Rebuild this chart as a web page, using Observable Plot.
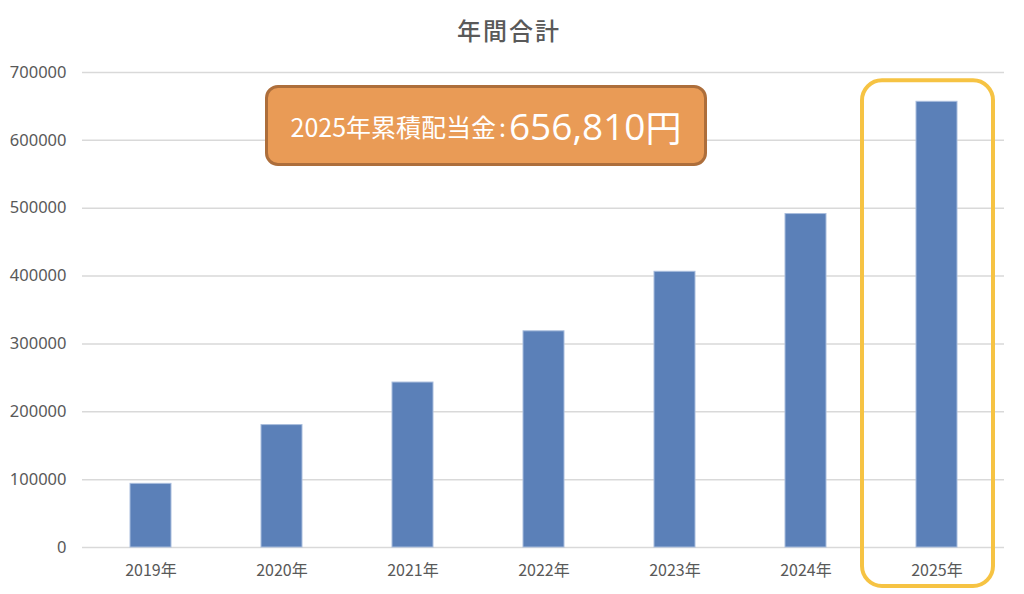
<!DOCTYPE html>
<html>
<head>
<meta charset="utf-8">
<script src="https://cdn.jsdelivr.net/npm/d3@7"></script>
<script src="https://cdn.jsdelivr.net/npm/@observablehq/plot@0.6"></script>
<style>
  html, body { margin: 0; padding: 0; background: #fff; }
  #wrap { position: relative; width: 1024px; height: 594px; overflow: hidden; }
  #title { position: absolute; left: 0; top: 12px; width: 1018px; text-align: center;
           font-family: "Noto Sans CJK JP", sans-serif; font-size: 24px; font-weight: 500; letter-spacing: 2px; color: #595959; }
  #note { position: absolute; left: 265px; top: 85px; width: 436px; height: 75px;
          border: 3px solid #AD6E3B; border-radius: 13px; background: #E99B56;
          display: flex; align-items: center; justify-content: center;
          font-family: "Noto Sans CJK JP", sans-serif; font-weight: normal; color: #fff; white-space: nowrap; }
  #note .a { font-size: 25px; }
  #note .sep { font-size: 25px; margin: 0 3px; }
  #note .b { font-size: 37px; font-family: "Open Sans", "Noto Sans CJK JP", sans-serif; }
  #note .c { font-size: 36px; }
</style>
</head>
<body>
<div id="wrap">
  <div id="chart"></div>
  <div id="title"></div>
  <div id="note"></div>
</div>
<script>
const titleText = "年間合計";
const years = ["2019年", "2020年", "2021年", "2022年", "2023年", "2024年", "2025年"];
const totals = [93800, 180400, 243100, 318600, 406300, 491400, 656810];
const yTicks = [0, 100000, 200000, 300000, 400000, 500000, 600000, 700000];
const highlightYear = "2025年";
const noteLabel = "2025年累積配当金";

const data = years.map((y, i) => ({year: y, total: totals[i]}));
const highlight = data.filter(d => d.year === highlightYear);

document.getElementById("title").textContent = titleText;
const hv = highlight[0].total;
document.getElementById("note").innerHTML =
  `<span class="a">${noteLabel}</span><span class="sep">:</span><span class="b">${d3.format(",")(hv)}</span><span class="c">円</span>`;

const chart = Plot.plot({
  width: 1024,
  height: 594,
  marginLeft: 82,
  marginRight: 20,
  marginTop: 72,
  marginBottom: 47,
  style: {fontFamily: "'Noto Sans', 'Noto Sans CJK JP', sans-serif", fontSize: "16px", color: "#595959", background: "transparent", overflow: "visible"},
  x: {domain: years, paddingInner: 0.69, paddingOuter: 0.345, label: null},
  y: {domain: [0, 700000], label: null},
  marks: [
    Plot.ruleY(yTicks, {stroke: "#d9d9d9", strokeWidth: 1.5}),
    Plot.barY(data, {x: "year", y: "total", fill: "#5B80B8", stroke: "#a9bddd", strokeWidth: 1}),
    Plot.barY(highlight, {x: "year", y1: 0, y2: "total", fill: "none", stroke: "#F6C343", strokeWidth: 4,
      rx: 20, insetLeft: -54, insetRight: -36, insetTop: -21, insetBottom: -39}),
    Plot.axisY({ticks: yTicks, tickSize: 0, tickPadding: 16, tickFormat: d => String(d), fontSize: 16.5, fill: "#595959"}),
    Plot.axisX({tickSize: 0, tickPadding: 17, fontSize: 16, fill: "#595959", fontFamily: "'Noto Sans CJK JP', sans-serif"})
  ]
});
document.getElementById("chart").appendChild(chart);
</script>
</body>
</html>
